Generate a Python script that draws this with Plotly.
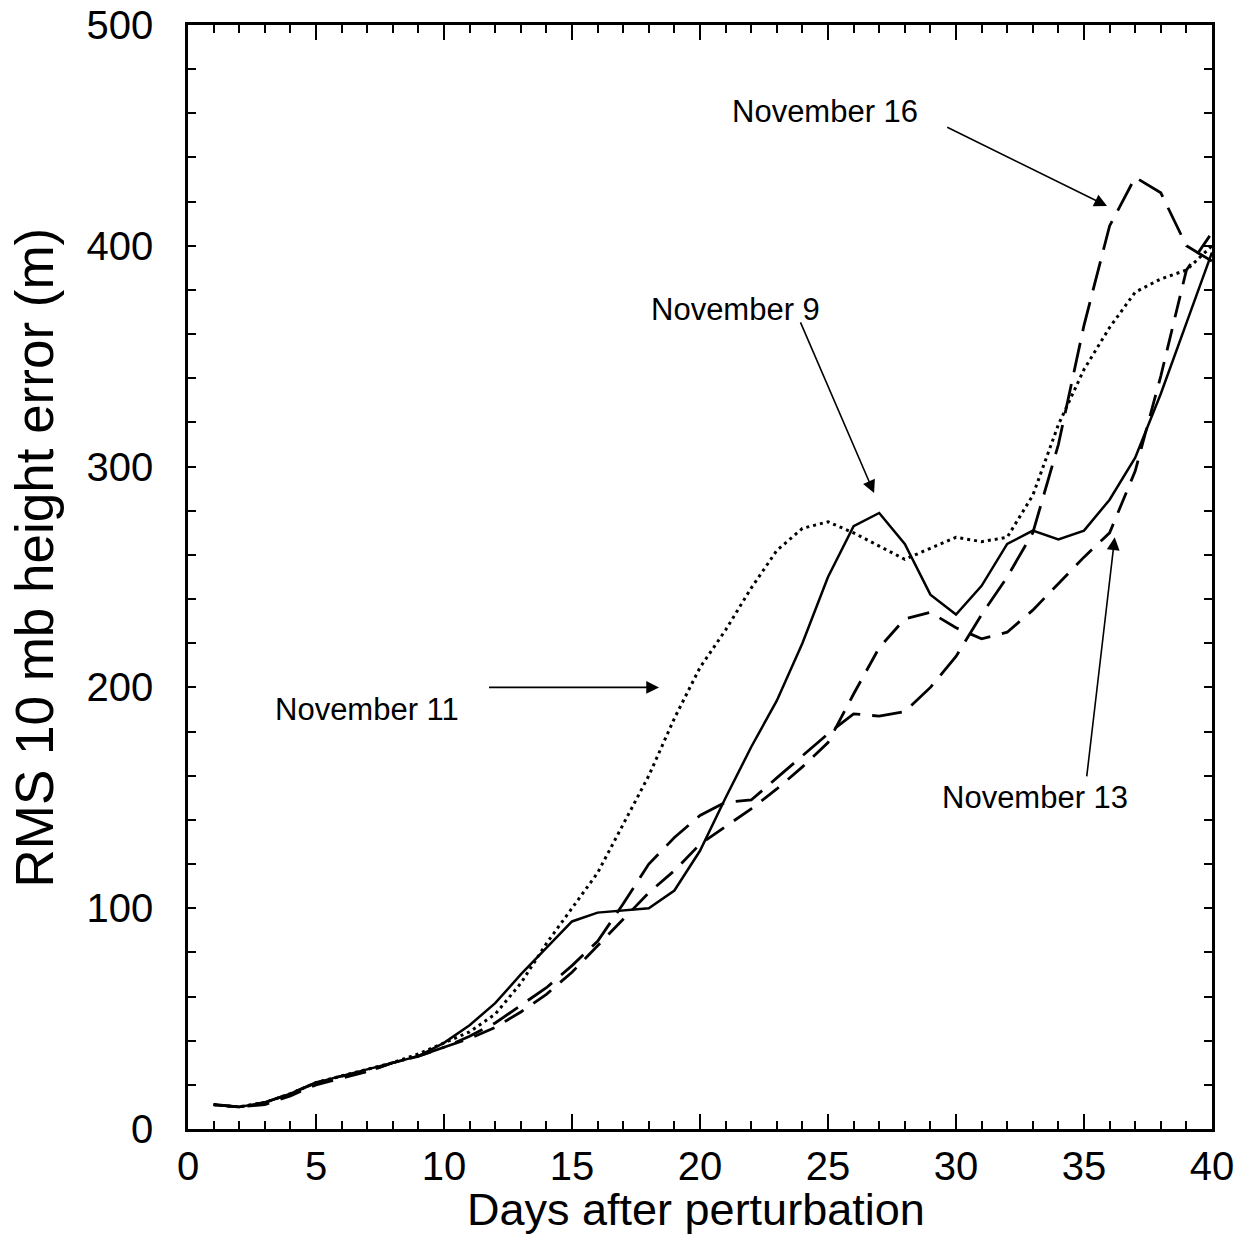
import plotly.graph_objects as go

days = list(range(1, 41))

nov9 = [11, 10, 12, 16, 21, 24, 27, 30, 33, 39, 47, 57, 70, 82, 94, 98, 99, 100, 108, 126,
        150, 173, 194, 220, 250, 273, 279, 265, 242, 233, 246, 265, 271, 267, 271, 285, 304, 333, 365, 397]
nov11 = [11, 10, 12, 16, 21, 24, 27, 30, 34, 39, 44, 52, 66, 84, 100, 116, 138, 160, 186, 209,
         226, 245, 262, 272, 275, 270, 264, 258, 263, 268, 266, 268, 287, 319, 344, 363, 379, 385, 389, 400]
nov13 = [11, 10, 11, 15, 20, 23, 26, 30, 33, 37, 41, 46, 53, 61, 71, 83, 95, 107, 117, 129,
         137, 145, 154, 164, 175, 197, 218, 231, 234, 227, 222, 225, 235, 247, 259, 270, 298, 341, 389, 406]
nov16 = [11, 10, 12, 16, 21, 24, 26, 30, 33, 37, 42, 48, 56, 64, 74, 85, 102, 120, 132, 142,
         148, 149, 159, 169, 179, 188, 187, 189, 200, 214, 233, 250, 270, 310, 364, 409, 431, 424, 400, 393]

x_ticks = [0, 5, 10, 15, 20, 25, 30, 35, 40]
y_ticks = [0, 100, 200, 300, 400, 500]

labels = ["November 16", "November 9", "November 11", "November 13"]
label_pos = [(24.9, 461), (21.4, 371), (7.0, 190), (33.1, 150)]
arrow_tail = [(29.6, 454), (23.9, 366), (11.7, 200), (35.1, 159)]
arrow_tip = [(35.9, 418), (26.8, 288), (18.4, 200), (36.2, 268)]

FONT = "Liberation Sans, Arial, sans-serif"

fig = go.Figure()
fig.add_trace(go.Scatter(x=days, y=nov9, mode="lines", name="November 9",
                         line=dict(color="black", width=2.5)))
fig.add_trace(go.Scatter(x=days, y=nov11, mode="lines", name="November 11",
                         line=dict(color="black", width=3, dash="3px,4px")))
fig.add_trace(go.Scatter(x=days, y=nov13, mode="lines", name="November 13",
                         line=dict(color="black", width=2.8, dash="22px,12px")))
fig.add_trace(go.Scatter(x=days, y=nov16, mode="lines", name="November 16",
                         line=dict(color="black", width=2.8, dash="30px,12px")))

annotations = []
for txt, (lx, ly) in zip(labels, label_pos):
    annotations.append(dict(x=lx, y=ly, xref="x", yref="y", text=txt, showarrow=False,
                            font=dict(family=FONT, size=31, color="black"),
                            xanchor="center", yanchor="middle"))
for (tx, ty), (hx, hy) in zip(arrow_tail, arrow_tip):
    annotations.append(dict(x=hx, y=hy, ax=tx, ay=ty, xref="x", yref="y", axref="x", ayref="y",
                            text="", showarrow=True, arrowhead=2, arrowsize=1.6, arrowwidth=1.6,
                            arrowcolor="black", standoff=0, startstandoff=0))
annotations.append(dict(x=0.496, y=-0.073, xref="paper", yref="paper", text="Days after perturbation",
                        showarrow=False, font=dict(family=FONT, size=45, color="black"),
                        xanchor="center", yanchor="middle"))
annotations.append(dict(x=-0.15, y=0.518, xref="paper", yref="paper", text="RMS 10 mb height error (m)",
                        showarrow=False, textangle=-90, font=dict(family=FONT, size=53, color="black"),
                        xanchor="center", yanchor="middle"))

fig.update_layout(
    width=1247, height=1240,
    margin=dict(l=188, r=35, t=25, b=111),
    paper_bgcolor="white", plot_bgcolor="white",
    showlegend=False,
    annotations=annotations,
    xaxis=dict(range=[0, 40], tickvals=x_ticks, ticktext=[str(v) for v in x_ticks],
               ticks="inside", ticklen=15, tickwidth=2, tickcolor="black",
               minor=dict(dtick=1, ticks="inside", ticklen=8, tickwidth=2, tickcolor="black"),
               showline=True, linewidth=2.5, linecolor="black", mirror="ticks",
               showgrid=False, zeroline=False, ticklabelstandoff=0, automargin=False,
               tickfont=dict(family=FONT, size=40, color="black")),
    yaxis=dict(range=[0, 500], tickvals=y_ticks, ticktext=[str(v) for v in y_ticks],
               ticks="inside", ticklen=8, tickwidth=2, tickcolor="black",
               minor=dict(dtick=20, ticks="inside", ticklen=8, tickwidth=2, tickcolor="black"),
               showline=True, linewidth=2.5, linecolor="black", mirror="ticks",
               showgrid=False, zeroline=False, ticklabelstandoff=24, automargin=False,
               tickfont=dict(family=FONT, size=40, color="black")),
)

fig.write_html("out.html")
